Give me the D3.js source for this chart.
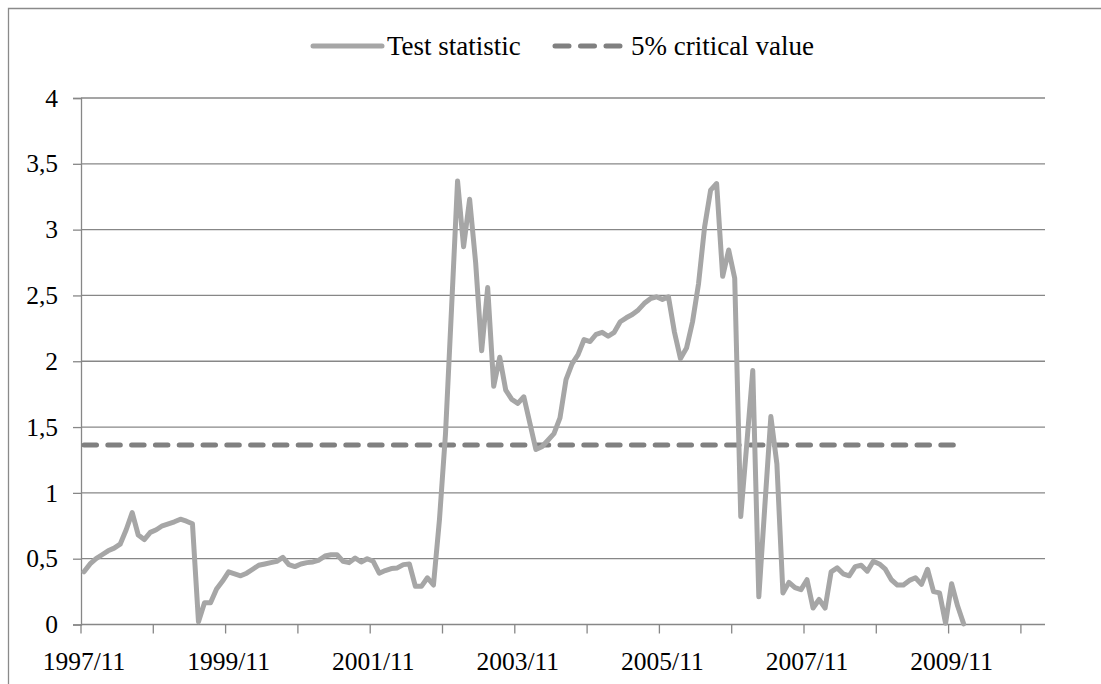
<!DOCTYPE html>
<html>
<head>
<meta charset="utf-8">
<script src="https://cdn.jsdelivr.net/npm/d3@7"></script>
<style>
  html, body { margin: 0; padding: 0; background: #fff; }
  svg { display: block; }
  text { font-family: "Liberation Serif", "Times New Roman", serif; fill: #000; }
</style>
</head>
<body>
<svg id="chart" width="1101" height="684"></svg>
<script>
// ---------------- data ----------------
const startYear = 1997, startMonth = 11, nCategories = 160;
const testStatistic = [
  0.40, 0.46, 0.50, 0.53, 0.56, 0.58, 0.61, 0.72, 0.85, 0.68,
  0.645, 0.70, 0.72, 0.75, 0.765, 0.78, 0.80, 0.785, 0.765, 0.02,
  0.165, 0.165, 0.27, 0.33, 0.40, 0.385, 0.37, 0.39, 0.42, 0.45,
  0.46, 0.47, 0.48, 0.51, 0.455, 0.44, 0.46, 0.47, 0.475, 0.49,
  0.52, 0.53, 0.53, 0.48, 0.47, 0.505, 0.475, 0.50, 0.48, 0.39,
  0.41, 0.425, 0.43, 0.455, 0.46, 0.29, 0.29, 0.355, 0.30, 0.80,
  1.45, 2.40, 3.37, 2.87, 3.23, 2.75, 2.08, 2.56, 1.81, 2.03,
  1.78, 1.71, 1.68, 1.73, 1.53, 1.33, 1.35, 1.40, 1.45, 1.57,
  1.86, 1.98, 2.05, 2.165, 2.15, 2.205, 2.22, 2.19, 2.22, 2.30,
  2.33, 2.355, 2.39, 2.44, 2.475, 2.49, 2.47, 2.49, 2.22, 2.02,
  2.10, 2.30, 2.59, 3.02, 3.30, 3.35, 2.645, 2.845, 2.63, 0.82,
  1.37, 1.93, 0.21, 0.90, 1.58, 1.22, 0.24, 0.32, 0.28, 0.265,
  0.34, 0.125, 0.19, 0.125, 0.40, 0.43, 0.385, 0.37, 0.44, 0.45,
  0.405, 0.48, 0.46, 0.42, 0.34, 0.30, 0.30, 0.335, 0.355, 0.305,
  0.42, 0.25, 0.24, 0.01, 0.31, 0.14, 0.005
];
const criticalValue5 = 1.364;
const xTickLabels = ["1997/11", "1999/11", "2001/11", "2003/11", "2005/11", "2007/11", "2009/11"];
const yTicks = [0, 0.5, 1, 1.5, 2, 2.5, 3, 3.5, 4];
const seriesNames = ["Test statistic", "5% critical value"];

// category labels (monthly)
const categories = [];
for (let i = 0; i < nCategories; i++) {
  const m = startMonth - 1 + i;
  const y = startYear + Math.floor(m / 12);
  const mm = (m % 12) + 1;
  categories.push(y + "/" + (mm < 10 ? "0" + mm : mm));
}
const critSeries = testStatistic.map(() => criticalValue5);

// ---------------- layout ----------------
const svg = d3.select("#chart");
const L = 81, R = 1045, T = 98, B = 624.5;
const gridColor = "#878787";
const lineColor = "#a6a6a6";
const dashColor = "#808080";

const x = d3.scaleBand().domain(categories).range([L, R]).paddingInner(0).paddingOuter(0);
const cx = c => x(c) + x.bandwidth() / 2;
const y = d3.scaleLinear().domain([0, 4]).range([B, T]);
const fmt = d3.formatLocale({decimal: ",", thousands: ".", grouping: [3], currency: ["", ""]}).format("~g");

// outer chart border
svg.append("path")
  .attr("d", "M8.5,684 V8.5 H1101")
  .attr("fill", "none").attr("stroke", "#8a8a8a").attr("stroke-width", 1.3);

// gridlines + y axis
const yAxis = d3.axisLeft(y).tickValues(yTicks).tickSize(8).tickPadding(15).tickFormat(fmt);
const gy = svg.append("g").attr("transform", `translate(${L},0)`).call(yAxis);
gy.select(".domain").attr("stroke", gridColor).attr("stroke-width", 1.3);
gy.selectAll(".tick line").attr("stroke", gridColor).attr("stroke-width", 1.3);
gy.selectAll(".tick text").attr("font-size", "25.5px").attr("font-family", "Liberation Serif").attr("fill", "#000");

svg.append("g").selectAll("line").data(yTicks.filter(d => d > 0)).join("line")
  .attr("x1", L).attr("x2", R).attr("y1", d => y(d)).attr("y2", d => y(d))
  .attr("stroke", gridColor).attr("stroke-width", 1.3);

// x axis line
svg.append("line").attr("x1", L).attr("x2", R).attr("y1", B).attr("y2", B)
  .attr("stroke", gridColor).attr("stroke-width", 1.3);

// x tick marks every 12 categories at category boundaries
const tickCats = categories.filter((c, i) => i % 12 === 0);
svg.append("g").selectAll("line").data(tickCats).join("line")
  .attr("x1", d => x(d)).attr("x2", d => x(d)).attr("y1", B).attr("y2", B + 9)
  .attr("stroke", gridColor).attr("stroke-width", 1.3);

// x labels centered on categories
svg.append("g").selectAll("text").data(xTickLabels).join("text")
  .attr("x", d => cx(d)).attr("y", 670)
  .attr("text-anchor", "middle").attr("font-size", "25.5px")
  .text(d => d);

// series
const line = d3.line().x((d, i) => cx(categories[i])).y(d => y(d));

svg.append("path").datum(critSeries)
  .attr("d", line).attr("fill", "none")
  .attr("stroke", dashColor).attr("stroke-width", 5)
  .attr("stroke-linecap", "round").attr("stroke-dasharray", "12.5 11.3");

svg.append("path").datum(testStatistic)
  .attr("d", line).attr("fill", "none")
  .attr("stroke", lineColor).attr("stroke-width", 5)
  .attr("stroke-linejoin", "round").attr("stroke-linecap", "round");

// legend
const lg = svg.append("g");
lg.append("line").attr("x1", 313).attr("x2", 382).attr("y1", 46).attr("y2", 46)
  .attr("stroke", lineColor).attr("stroke-width", 5).attr("stroke-linecap", "round");
lg.append("text").attr("x", 387).attr("y", 46).attr("dy", "0.33em")
  .attr("font-size", "27px").text(seriesNames[0]);
lg.append("line").attr("x1", 555).attr("x2", 624).attr("y1", 46).attr("y2", 46)
  .attr("stroke", dashColor).attr("stroke-width", 5).attr("stroke-linecap", "round")
  .attr("stroke-dasharray", "14 11.5");
lg.append("text").attr("x", 631).attr("y", 46).attr("dy", "0.33em")
  .attr("font-size", "27px").text(seriesNames[1]);
</script>
</body>
</html>
